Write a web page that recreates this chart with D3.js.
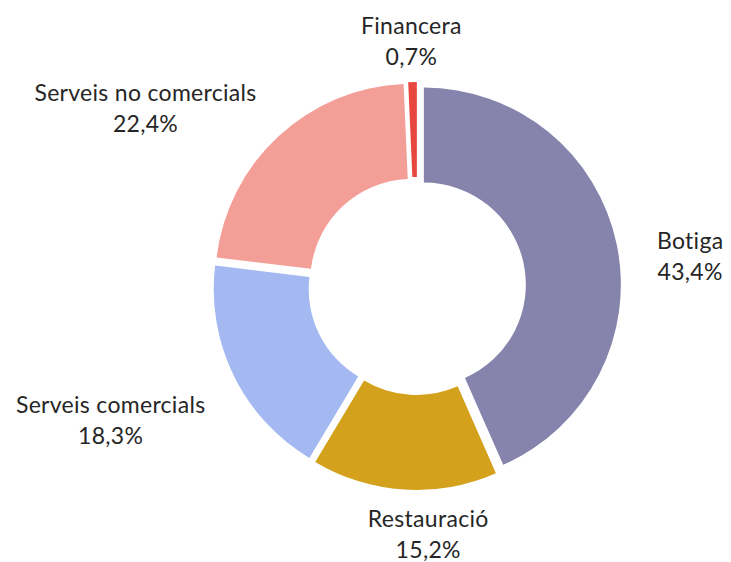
<!DOCTYPE html>
<html>
<head>
<meta charset="utf-8">
<script src="https://cdn.jsdelivr.net/npm/d3@7"></script>
<style>
  html, body { margin: 0; padding: 0; background: #fff; }
  svg { display: block; }
  text { font-variant-ligatures: none; }
</style>
</head>
<body>
<svg id="chart" width="731" height="562"></svg>
<script>
// ---- data ----
const categories = ["Botiga", "Restauració", "Serveis comercials", "Serveis no comercials", "Financera"];
const values = [43.4, 15.2, 18.3, 22.4, 0.7];
const valueLabels = ["43,4%", "15,2%", "18,3%", "22,4%", "0,7%"];
const colors = ["#8683AC", "#D4A11C", "#A4B9F2", "#F49E98", "#E8473F"];

// ---- layout ----
const W = 731, H = 562;
const cx = 417, cy = 286;
const outerR = 197, innerR = 102;
const explode = 7;
// label placement: [angle shift (deg) from slice middle, distance from centre]
const labelLayout = [[7.4, 274], [-6.1, 257], [1.1, 338], [-15.2, 320], [-0.1, 237]];
const lineGap = 15.5;

const svg = d3.select("#chart");
svg.append("rect").attr("width", W).attr("height", H).attr("fill", "#fff");

const pie = d3.pie().sort(null).value(d => d.value).startAngle(0).endAngle(2 * Math.PI);
const data = categories.map((c, i) => ({ name: c, value: values[i], label: valueLabels[i], color: colors[i], i }));
const arcs = pie(data);
const arc = d3.arc().innerRadius(innerR).outerRadius(outerR);

const g = svg.append("g").attr("transform", `translate(${cx},${cy})`);

g.selectAll("path.slice")
  .data(arcs)
  .join("path")
  .attr("class", "slice")
  .attr("d", arc)
  .attr("fill", d => d.data.color)
  .attr("transform", d => {
    const a = (d.startAngle + d.endAngle) / 2;
    return `translate(${Math.sin(a) * explode},${-Math.cos(a) * explode})`;
  });

const labels = g.selectAll("g.lab")
  .data(arcs)
  .join("g")
  .attr("class", "lab")
  .attr("transform", d => {
    const [da, r] = labelLayout[d.data.i];
    const a = (d.startAngle + d.endAngle) / 2 + da * Math.PI / 180;
    return `translate(${Math.sin(a) * r},${-Math.cos(a) * r})`;
  });

[[-lineGap, d => d.data.name], [lineGap, d => d.data.label]].forEach(([y, fn]) => {
  labels.append("text")
    .attr("text-anchor", "middle")
    .attr("y", y)
    .attr("font-family", "Lato, 'Open Sans', sans-serif")
    .attr("font-size", 23)
    .attr("letter-spacing", 0.3)
    .attr("fill", "#262626")
    .text(fn);
});
</script>
</body>
</html>
